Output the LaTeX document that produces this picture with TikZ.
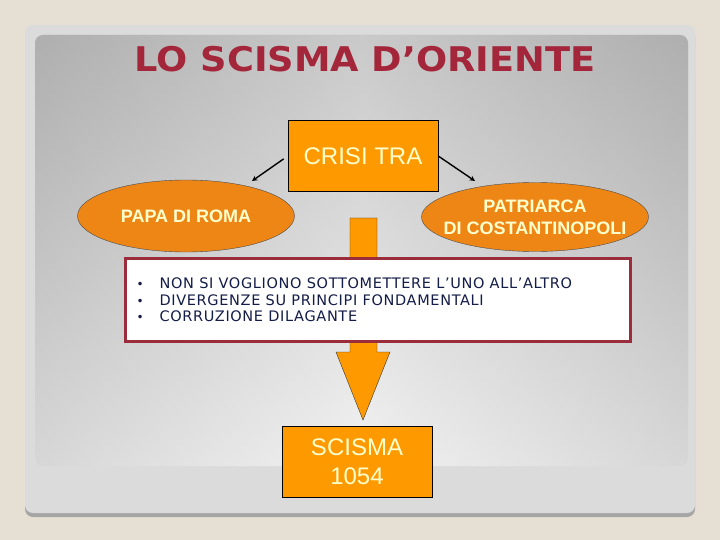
\documentclass[tikz,border=0pt]{standalone}
\usepackage{fontspec}
\setmainfont{Liberation Sans}
\newfontfamily\verd{DejaVu Sans}
\newfontfamily\verdlist[LetterSpace=4.5]{DejaVu Sans}
\usetikzlibrary{shapes}
\definecolor{beige}{HTML}{E5DFD4}
\definecolor{orangebox}{HTML}{FF9900}
\definecolor{orangeell}{HTML}{EE8616}
\definecolor{titlered}{HTML}{A3263B}
\definecolor{listblue}{HTML}{141C48}
\definecolor{listframe}{HTML}{9B2C3C}
\definecolor{paletext}{HTML}{FFFFCC}
\tikzstyle{box}=[rectangle,draw,fill=orangebox,minimum width=150pt,minimum height=71pt,text=paletext,font=\fontsize{24}{29}\selectfont,align=center]
\tikzstyle{party}=[ellipse,draw=black!70,fill=orangeell,text=paletext,font=\bfseries\fontsize{18}{22}\selectfont,align=center,inner sep=0pt]
\tikzstyle{link}=[->,>=stealth,line width=1.4pt]

\begin{document}
\begin{tikzpicture}[x=1pt,y=-1pt]
  % slide background
  \fill[beige] (0,0) rectangle (720,540);
  \fill[gray!70,rounded corners=8pt] (25,30) rectangle (695,517);
  \fill[white!86!black,rounded corners=8pt] (25,25) rectangle (695,513);
  \shade[rounded corners=8pt,top color=black!32,bottom color=black!8] (35,35) rectangle (688,466);
  \shade[rounded corners=8pt,left color=black!30,right color=black!30,middle color=white,opacity=0.35] (35,35) rectangle (688,466);
  \node[text=titlered,font=\verd\bfseries\fontsize{34}{36}\selectfont] (title) at (365,59) {\scalebox{1.08}[1]{LO SCISMA D’ORIENTE}};

  % big arrow behind the list
  \filldraw[fill=orangebox,draw=black!80,thin] (350,218) -- (377,218) -- (377,352) -- (390,352)
    -- (363,420) -- (336,352) -- (350,352) -- cycle;

  \node[box] (crisi) at (363,156) {CRISI TRA};
  \node[party,minimum width=217pt,minimum height=72pt] (papa) at (186,216) {PAPA DI ROMA};
  \node[party,minimum width=227pt,minimum height=69pt,inner xsep=-14pt] (patr) at (535,217) {PATRIARCA\\DI COSTANTINOPOLI};
  \coordinate (lend) at (252,181);
  \coordinate (rend) at (475,181);
  \draw[link,shorten <=5pt] (crisi.west) -- (lend);
  \draw[link] (crisi.east) -- (rend);

  \node[rectangle,draw=listframe,line width=3pt,fill=white,minimum width=505pt,minimum height=83pt] (list) at (378,300) {};
  \node[anchor=west,text=listblue,font=\verdlist\fontsize{14.5}{16.5}\selectfont,align=left] (items) at (133,302)
    {\begin{tabular}{@{}l@{\hspace{16pt}}l@{}}
      {\verd\fontsize{12}{12}\selectfont •} & NON SI VOGLIONO SOTTOMETTERE L’UNO ALL’ALTRO\\
      {\verd\fontsize{12}{12}\selectfont •} & DIVERGENZE SU PRINCIPI FONDAMENTALI\\
      {\verd\fontsize{12}{12}\selectfont •} & CORRUZIONE DILAGANTE
     \end{tabular}};

  \node[box] (scisma) at (357,462) {SCISMA\\1054};
\end{tikzpicture}
\end{document}
